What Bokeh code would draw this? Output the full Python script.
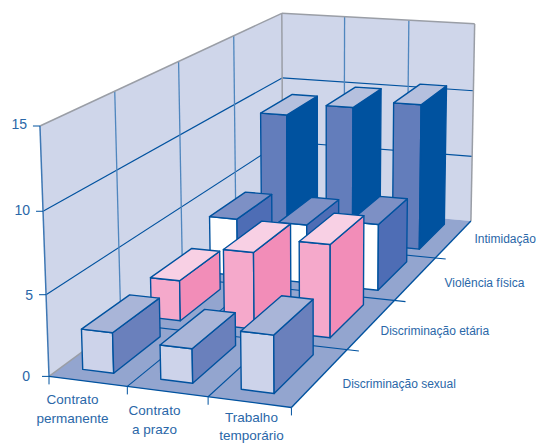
import numpy as np
from bokeh.embed import file_html
from bokeh.models import Range1d
from bokeh.plotting import figure
from bokeh.resources import INLINE
from bokeh.core.properties import value

# Survey data: one list of values per row, front row first
contracts = [["Contrato", "permanente"], ["Contrato", "a prazo"], ["Trabalho", "temporário"]]
series = ["Discriminação sexual", "Discriminação etária", "Violência física", "Intimidação"]
sexual = [2.5, 2.1, 3.5]
etaria = [2.65, 5.0, 6.0]
fisica = [4.0, 4.05, 4.55]
intimidacao = [9.1, 10.0, 10.55]
rows = [sexual, etaria, fisica, intimidacao]
z_ticks = [0, 5, 10, 15]

# Face colours per row: top, front, side
faces = [("#A9B5D8", "#CDD3EA", "#6A80BC"),
         ("#F8D0E4", "#F5A9CB", "#F28DB8"),
         ("#7D90C5", "#FFFFFF", "#4E6DB5"),
         ("#B5C0DE", "#637DBB", "#00529F")]

BLUE = "#00529F"
TEXT = "#2A67A8"
WALL = "#CFD6EA"
FLOOR = "#93A5CF"
GREY = "#9A9EA6"

# Calibration of the oblique view: (category, row, value) -> page position
calib = [((0,0,0),(49,375)),((3,0,0),(289,407)),((3,4,0),(469,220)),((0,4,0),(282,206)),
         ((0,0,15),(39,127)),((0,4,15),(282,12)),((3,4,15),(474,24)),((1,0,0),(126,385.5)),
         ((2,0,0),(205,396)),((3,1,0),(349,350)),((3,2,0),(397,300)),((3,3,0),(437,256)),
         ((0,1,15),(114,92)),((0,2,15),(178,61)),((0,3,15),(234,34)),((1,4,15),(344,15)),
         ((2,4,15),(409,20)),((0,0,5),(46,293)),((0,0,10),(43,211)),((3,4,5),(470,156)),
         ((3,4,10),(472,91)),((0,4,10),(281,77))]
A, b = [], []
for (u, v, z), (x, y) in calib:
    A.append([u, v, z, 1, 0, 0, 0, 0, -x*u, -x*v, -x*z]); b.append(x)
    A.append([0, 0, 0, 0, u, v, z, 1, -y*u, -y*v, -y*z]); b.append(y)
sol = np.linalg.lstsq(np.array(A, float), np.array(b, float), rcond=None)[0]
P = np.append(sol, 1).reshape(3, 4)


def proj(u, v, z=0.0):
    w = P @ np.array([u, v, z, 1.0])
    return w[0] / w[2], w[1] / w[2]


p = figure(width=536, height=443, output_backend="svg", toolbar_location=None,
           x_range=Range1d(0, 536), y_range=Range1d(443, 0), min_border=0,
           outline_line_color=None)
p.axis.visible = False
p.grid.visible = False
p.background_fill_color = "white"
p.border_fill_color = "white"


def quad(corners, fill, line=BLUE, lw=1.4):
    pts = [proj(*c) for c in corners]
    p.patch([q[0] for q in pts], [q[1] for q in pts], fill_color=fill,
            line_color=line, line_width=lw, line_join="round")


def seg(a, b, color=BLUE, lw=1.0, alpha=1.0):
    pa, pb = proj(*a), proj(*b)
    p.line([pa[0], pb[0]], [pa[1], pb[1]], line_color=color, line_width=lw, line_alpha=alpha)


# Walls and floor
quad([(0,0,0),(0,4,0),(0,4,15),(0,0,15)], WALL, line=None)
quad([(0,4,0),(3,4,0),(3,4,15),(0,4,15)], WALL, line=None)
quad([(0,0,0),(3,0,0),(3,4,0),(0,4,0)], FLOOR, line=None)

# Wall grid
for z in z_ticks[1:3]:
    seg((0,0,z), (0,4,z), lw=1.1)
    seg((0,4,z), (3,4,z), lw=1.1)
for v in (1, 2, 3):
    seg((0,v,0), (0,v,15), color="#4F86BE", lw=1.3)
for u in (1, 2):
    seg((u,4,0), (u,4,15), color="#4F86BE", lw=1.3)

# Wall outline
seg((0,0,15), (0,4,15), color=GREY, lw=1.5)
seg((0,4,15), (3,4,15), color=GREY, lw=1.5)
seg((3,4,15), (3,4,0), color=GREY, lw=1.5)
seg((0,4,15), (0,4,0), color=GREY, lw=1.5)
seg((0,0,0), (0,4,0), color=GREY, lw=1.5)
seg((0,0,0), (0,0,15), color="#3F78B4", lw=1.5)

# Floor grid and front/right edges with their tick marks
for v in (1, 2, 3):
    seg((0,v,0), (3.15,v,0), lw=1.1)
for u in (1, 2):
    seg((u,0,0), (u,4,0), lw=1.1)
seg((0,0,0), (3,0,0), lw=1.4)
seg((3,0,0), (3,4,0), lw=1.4)
for u in range(4):
    x, y = proj(u, 0)
    p.line([x, x], [y, y + 8], line_color=BLUE, line_width=1.0)
for z in z_ticks:
    x, y = proj(0, 0, z)
    p.line([x - 7, x], [y, y], line_color=BLUE, line_width=1.0)

# Bars, drawn back to front and left to right
U0, U1 = 0.27, 0.67
V0, V1 = 0.17, 0.85
for j in reversed(range(len(rows))):
    top, front, side = faces[j]
    for i, h in enumerate(rows[j]):
        a, c = i + U0, i + U1
        d, e = j + V0, j + V1
        quad([(a,d,0),(c,d,0),(c,d,h),(a,d,h)], front)
        quad([(c,d,0),(c,e,0),(c,e,h),(c,d,h)], side)
        quad([(a,d,h),(c,d,h),(c,e,h),(a,e,h)], top)


def label(x, y, text, size, align="center"):
    p.text([x], [y], text=[text], text_font=value("Liberation Sans"), text_font_size=size,
           text_color=TEXT, text_align=align, text_baseline="middle")


for z, y_nudge in zip(z_ticks, (0, 0, -1, -2)):
    x, y = proj(0, 0, z)
    label(x - 13 if z else x - 19, y + y_nudge, str(z), "14px", "right")

cat_pos = [(72, 399, 19), (154, 410, 19), (251, 417, 18)]
for (x, y, gap), lines in zip(cat_pos, contracts):
    label(x, y, lines[0], "13.5px")
    label(x, y + gap, lines[1], "13.5px")

ser_pos = [(342, 383), (380, 330), (444, 282), (474, 238)]
for (x, y), name in zip(ser_pos, series):
    label(x, y, name, "12px", "left")

open("out.html", "w").write(file_html(p, INLINE))
